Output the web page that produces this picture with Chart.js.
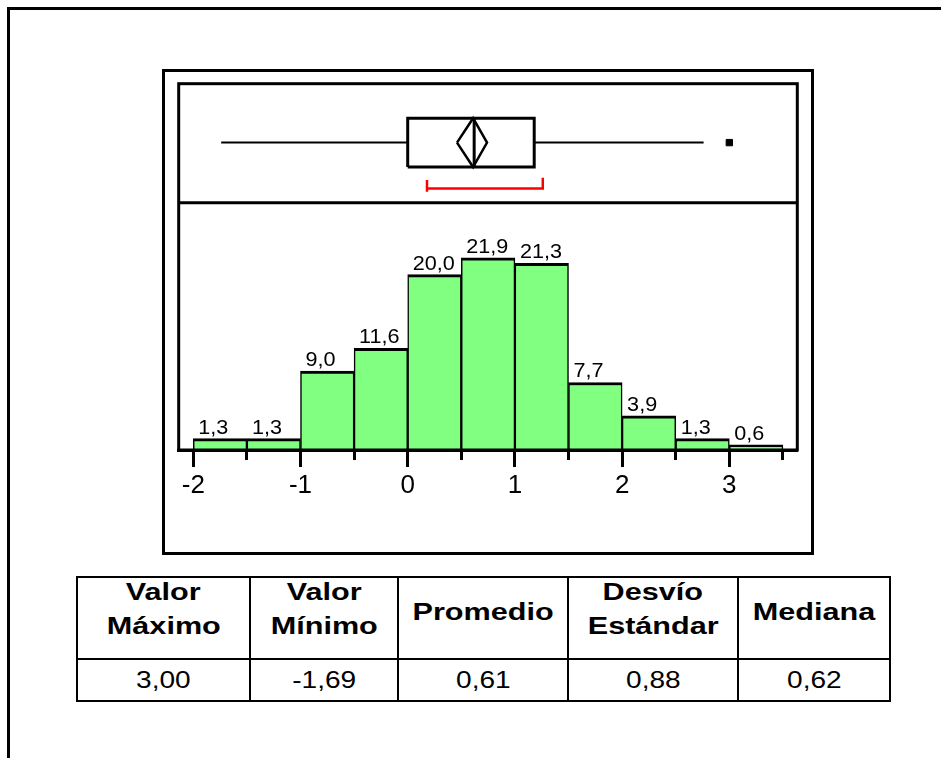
<!DOCTYPE html>
<html>
<head>
<meta charset="utf-8">
<script src="https://cdn.jsdelivr.net/npm/chart.js@4.4.0/dist/chart.umd.min.js"></script>
<style>
  body { margin: 0; background: #fff; width: 941px; height: 758px; overflow: hidden; position: relative;
         font-family: "Liberation Sans", Arial, sans-serif; }
  #page { position: absolute; left: 7px; top: 7px; width: 1000px; height: 800px;
          border-top: 3px solid #000; border-left: 3px solid #000; }
  #plotBox { position: absolute; left: 162px; top: 69px; width: 646px; height: 480px; border: 3px solid #000; }
  #plotBox canvas { display: block; }
  #stats { position: absolute; left: 76px; top: 576px; border-collapse: separate; border-spacing: 0;
           table-layout: fixed; border-top: 2px solid #000; border-left: 2px solid #000; }
  #stats td { border-right: 2px solid #000; border-bottom: 2px solid #000; text-align: center;
              padding: 0; box-sizing: border-box; }
  #statHead td { height: 82px; padding-bottom: 12px; }
  #statHead td.two span { position: relative; top: -3px; }
  #statVals td { height: 42px; }
  #statHead span { display: inline-block; font-weight: bold; font-size: 23px; line-height: 34px; transform: scaleX(1.33); }
  #statVals span { display: inline-block; font-size: 23px; line-height: 26px; transform: scaleX(1.22); }
</style>
</head>
<body>
<div id="page"></div>
<div id="plotBox"><canvas id="histChart" width="646" height="480"></canvas></div>
<table id="stats">
  <colgroup><col style="width:173px"><col style="width:148px"><col style="width:170px"><col style="width:170px"><col style="width:152px"></colgroup>
  <tr id="statHead"></tr>
  <tr id="statVals"></tr>
</table>
<script>
// histogram: bins of 0.5 starting at these values, percent of cases
const binStarts = [-2, -1.5, -1, -0.5, 0, 0.5, 1, 1.5, 2, 2.5, 3];
const percents = [1.3, 1.3, 9.0, 11.6, 20.0, 21.9, 21.3, 7.7, 3.9, 1.3, 0.6];
const binWidth = 0.5;
const xMin = -2.136;
const xMax = 3.634;
const yMax = 28.2;

// box plot
const whiskers = [-1.74, 2.76];
const quartiles = [0.0, 1.18];
const median = 0.62;
const mean = 0.61;
const meanCI = [0.46, 0.74];
const outliers = [3.0];
const redRange = [0.18, 1.26];

// summary table
const statHeaders = [['Valor', 'Máximo'], ['Valor', 'Mínimo'], ['Promedio'], ['Desvío', 'Estándar'], ['Mediana']];
const statValues = ['3,00', '-1,69', '0,61', '0,88', '0,62'];

const fmt = v => v.toFixed(1).replace('.', ',');

// vertical levels inside the box plot panel (yb scale 0..1)
const mid = 0.505, boxLo = 0.30, boxHi = 0.71, redY = 0.12;

function seg(points, color, width) {
    return {
        type: 'line', yAxisID: 'yb', data: points, borderColor: color, borderWidth: width,
        pointRadius: 0, fill: false, tension: 0, borderCapStyle: 'butt', borderJoinStyle: 'miter'
    };
}

const datasets = [
    {
        type: 'bar',
        label: '%',
        yAxisID: 'y',
        data: binStarts.map((b, i) => ({ x: b + binWidth / 2, y: percents[i] })),
        backgroundColor: '#80FF80',
        borderColor: '#000',
        borderWidth: { top: 3, left: 1.5, right: 1.5, bottom: 0 },
        borderSkipped: 'start',
        barPercentage: 1,
        categoryPercentage: 1
    },
    seg([{ x: whiskers[0], y: mid }, { x: quartiles[0], y: mid }], '#000', 2),
    seg([{ x: quartiles[1], y: mid }, { x: whiskers[1], y: mid }], '#000', 2),
    seg([{ x: quartiles[0], y: boxLo }, { x: quartiles[1], y: boxLo }, { x: quartiles[1], y: boxHi },
         { x: quartiles[0], y: boxHi }, { x: quartiles[0], y: boxLo }], '#000', 3),
    seg([{ x: median, y: boxLo }, { x: median, y: boxHi }], '#000', 3),
    seg([{ x: meanCI[0], y: mid }, { x: mean, y: boxHi }, { x: meanCI[1], y: mid },
         { x: mean, y: boxLo }, { x: meanCI[0], y: mid }], '#000', 2.5),
    seg([{ x: redRange[0], y: 0.19 }, { x: redRange[0], y: 0.092 }], '#FF0000', 2.5),
    seg([{ x: redRange[0], y: redY }, { x: redRange[1], y: redY }, { x: redRange[1], y: 0.21 }], '#FF0000', 2.5),
    {
        type: 'line', yAxisID: 'yb', showLine: false,
        data: outliers.map(v => ({ x: v, y: mid })),
        pointStyle: 'rect', pointRadius: 4.5, pointBorderWidth: 1,
        pointBackgroundColor: '#000', pointBorderColor: '#000'
    }
];

const plotFrame = {
    id: 'plotFrame',
    afterDatasetsDraw(chart) {
        const { ctx, chartArea: a, scales } = chart;
        ctx.save();
        ctx.strokeStyle = '#000';
        ctx.lineWidth = 3;
        ctx.strokeRect(a.left, a.top, a.right - a.left, a.bottom - a.top);
        ctx.beginPath();
        ctx.moveTo(a.left, scales.y.top);
        ctx.lineTo(a.right, scales.y.top);
        ctx.stroke();

        // value labels above the bars
        ctx.font = '20px "Liberation Sans", Arial, sans-serif';
        ctx.fillStyle = '#000';
        ctx.textBaseline = 'alphabetic';
        chart.getDatasetMeta(0).data.forEach((bar, i) => {
            const p = bar.getProps(['x', 'y', 'width'], true);
            ctx.save();
            ctx.translate(p.x - p.width / 2 + 5, p.y - 5);
            ctx.scale(1.08, 1);
            ctx.fillText(fmt(percents[i]), 0, 0);
            ctx.restore();
        });
        ctx.restore();
    }
};

const halfTick = c => (c.tick && !Number.isInteger(c.tick.value)) ? [8, 100] : [];

const histCtx = document.getElementById('histChart').getContext('2d');
const histChart = new Chart(histCtx, {
    type: 'bar',
    data: { datasets: datasets },
    options: {
        responsive: false,
        animation: false,
        events: [],
        layout: { padding: { left: 13.7, right: 13.7, top: 11.7, bottom: 0 } },
        plugins: { legend: { display: false }, tooltip: { enabled: false } },
        scales: {
            x: {
                type: 'linear',
                min: xMin,
                max: xMax,
                offset: false,
                afterFit: scale => { scale.height = 102; },
                border: { display: true, color: '#000', width: 3, dash: [] },
                grid: {
                    offset: false,
                    drawOnChartArea: false,
                    tickLength: 17,
                    tickColor: '#000',
                    tickWidth: 3,
                    tickBorderDash: halfTick
                },
                ticks: {
                    stepSize: binWidth,
                    includeBounds: false,
                    autoSkip: false,
                    maxRotation: 0,
                    padding: 3,
                    color: '#000',
                    font: { family: '"Liberation Sans", Arial, sans-serif', size: 26 },
                    callback: v => Number.isInteger(v) ? String(v) : ''
                }
            },
            y: {
                type: 'linear', position: 'left', display: false,
                min: 0, max: yMax, stack: 'panel', stackWeight: 247.3
            },
            yb: {
                type: 'linear', position: 'left', display: false,
                min: 0, max: 1, stack: 'panel', stackWeight: 119
            }
        }
    },
    plugins: [plotFrame]
});

// summary table under the chart
const headRow = document.getElementById('statHead');
statHeaders.forEach(lines => {
    const td = document.createElement('td');
    if (lines.length > 1) td.className = 'two';
    td.innerHTML = lines.map(t => '<span>' + t + '</span>').join('<br>');
    headRow.appendChild(td);
});
const valRow = document.getElementById('statVals');
statValues.forEach(v => {
    const td = document.createElement('td');
    td.innerHTML = '<span>' + v + '</span>';
    valRow.appendChild(td);
});
</script>
</body>
</html>
